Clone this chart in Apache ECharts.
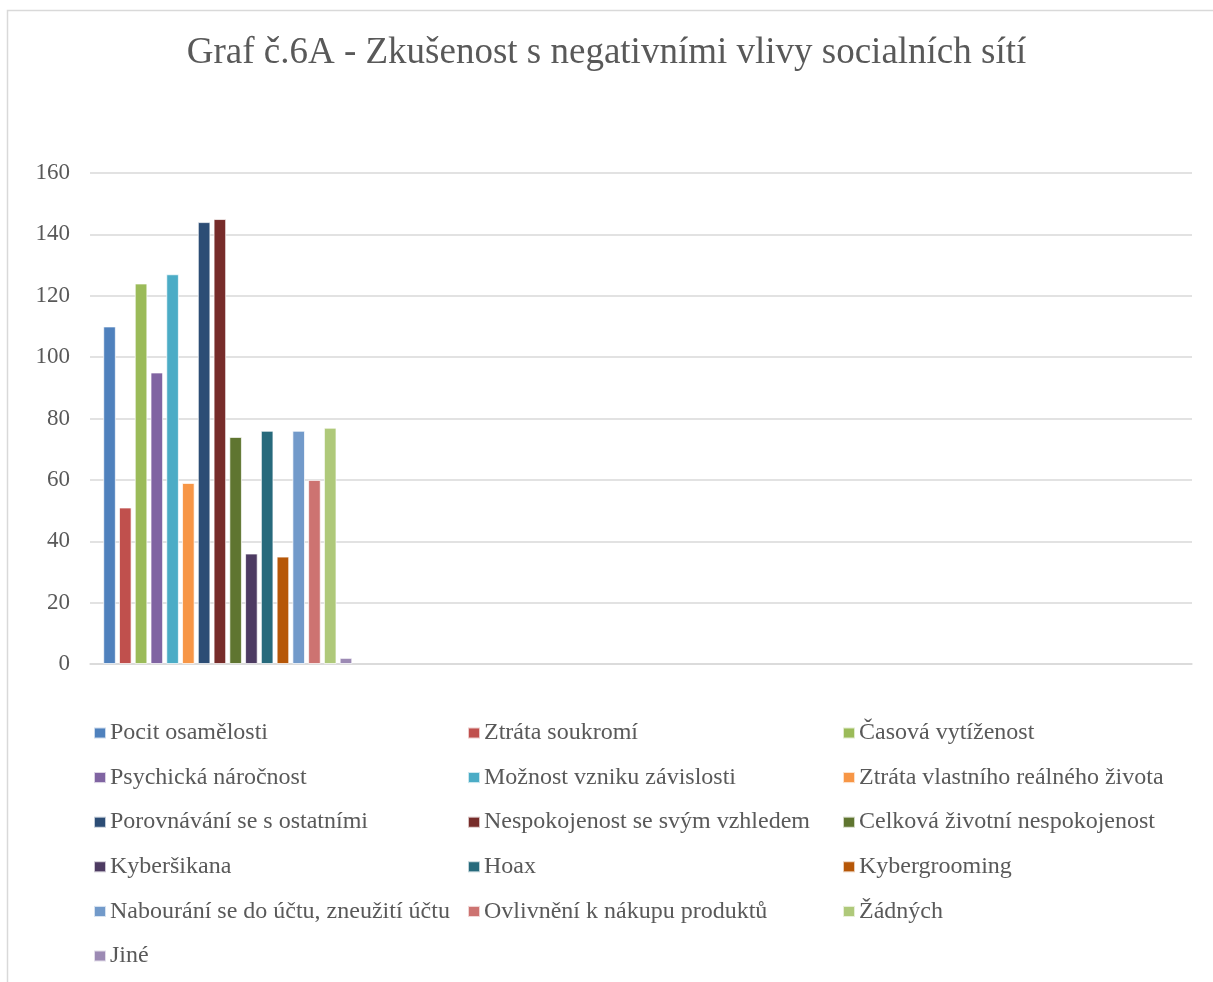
<!DOCTYPE html>
<html>
<head>
<meta charset="utf-8">
<script src="https://cdn.jsdelivr.net/npm/echarts@6/dist/echarts.min.js"></script>
<style>
html,body{margin:0;padding:0;background:#fff;}
#chart{width:1213px;height:982px;}
</style>
</head>
<body>
<div id="chart"></div>
<script>
const title = 'Graf č.6A - Zkušenost s negativními vlivy socialních sítí';
const categories = ['', '', '', ''];
const seriesNames = [
  'Pocit osamělosti', 'Ztráta soukromí', 'Časová vytíženost',
  'Psychická náročnost', 'Možnost vzniku závislosti', 'Ztráta vlastního reálného života',
  'Porovnávání se s ostatními', 'Nespokojenost se svým vzhledem', 'Celková životní nespokojenost',
  'Kyberšikana', 'Hoax', 'Kybergrooming',
  'Nabourání se do účtu, zneužití účtu', 'Ovlivnění k nákupu produktů', 'Žádných',
  'Jiné'
];
const seriesValues = [110, 51, 124, 95, 127, 59, 144, 145, 74, 36, 76, 35, 76, 60, 77, 2];
const seriesColors = [
  '#4f81bd', '#c0504d', '#9bbb59', '#8064a2', '#4bacc6', '#f79646',
  '#2c4d75', '#772c2a', '#5f7530', '#4d3b62', '#276a7c', '#b65708',
  '#729aca', '#cd7371', '#afc97a', '#9c8ab4'
];
const yTicks = { min: 0, max: 160, interval: 20 };

const font = '"Liberation Serif", "DejaVu Serif", serif';
const textColor = '#595959';

const series = seriesNames.map((name, i) => ({
  name: name,
  type: 'bar',
  data: categories.map((c, j) => (j === 0 ? seriesValues[i] : null)),
  barGap: '25%',
  barCategoryGap: '9.6%',
  itemStyle: { color: seriesColors[i], borderColor: 'rgba(255,255,255,0.7)', borderWidth: 1 },
  emphasis: { disabled: true }
}));

const cols = [[], [], []];
seriesNames.forEach((n, i) => cols[i % 3].push(n));
const colLeft = [88, 462, 837];
const legends = cols.map((data, k) => ({
  data: data,
  orient: 'vertical',
  left: colLeft[k],
  top: 715,
  itemWidth: 12,
  itemHeight: 11,
  itemGap: 18.6,
  icon: 'rect',
  selectedMode: false,
  textStyle: { fontFamily: font, fontSize: 24, color: textColor, lineHeight: 26, padding: [0, 0, 0, -1] }
}));

const chart = echarts.init(document.getElementById('chart'), null, { renderer: 'canvas' });
chart.setOption({
  backgroundColor: '#fff',
  animation: false,
  color: seriesColors,
  title: {
    text: title,
    left: 'center',
    top: 30,
    textStyle: { fontFamily: font, fontSize: 37, fontWeight: 'normal', color: textColor }
  },
  legend: legends,
  grid: { left: 90, right: 21, top: 173, bottom: 318, containLabel: false },
  xAxis: {
    type: 'category',
    data: categories,
    axisLine: { show: true, lineStyle: { color: '#d9d9d9', width: 1.5 } },
    axisTick: { show: false },
    axisLabel: { show: false },
    splitLine: { show: false }
  },
  yAxis: {
    type: 'value',
    min: yTicks.min,
    max: yTicks.max,
    interval: yTicks.interval,
    axisLine: { show: false },
    axisTick: { show: false },
    axisLabel: { fontFamily: font, fontSize: 23, color: textColor, margin: 20 },
    splitLine: { lineStyle: { color: '#d9d9d9', width: 1.5 } }
  },
  graphic: [{
    type: 'rect',
    shape: { x: 7.5, y: 10.5, width: 1400, height: 1200 },
    style: { fill: null, stroke: '#d9d9d9', lineWidth: 1.5 },
    silent: true
  }],
  series: series
});
</script>
</body>
</html>
